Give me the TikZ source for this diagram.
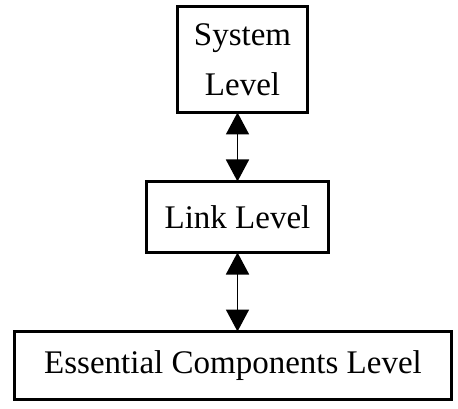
\documentclass[tikz,border=0pt]{standalone}
\usepackage{fontspec}
\setmainfont{Liberation Serif}
\usetikzlibrary{positioning,arrows.meta}

\begin{document}
\begin{tikzpicture}[x=1pt, y=-1pt]
		\tikzstyle{level}=[rectangle, draw=black, line width=3pt, inner sep=0pt, outer sep=0pt, align=center, font=\fontsize{33}{50}\selectfont]
		\tikzstyle{connect}=[line width=1.8pt, {Triangle[length=22pt,width=23pt]}-{Triangle[length=22pt,width=23pt]}]
		\useasboundingbox (0,0) rectangle (458,409);
		\node[level, minimum width=130pt, minimum height=106pt] (sys) at (242.5,59.5) {System\\Level};
		\node[level, minimum width=182pt, minimum height=71pt]  (link) [below=69pt of sys, xshift=-5pt] {Link Level};
		\node[level, minimum width=437pt, minimum height=68pt]  (ess) [below=79pt of link, xshift=-4.5pt] {Essential Components Level};
		
		\draw[connect] (link.north |- sys.south) -- (link.north);
		\draw[connect] (link.south) -- (link.south |- ess.north);
		
		\end{tikzpicture}
\end{document}
